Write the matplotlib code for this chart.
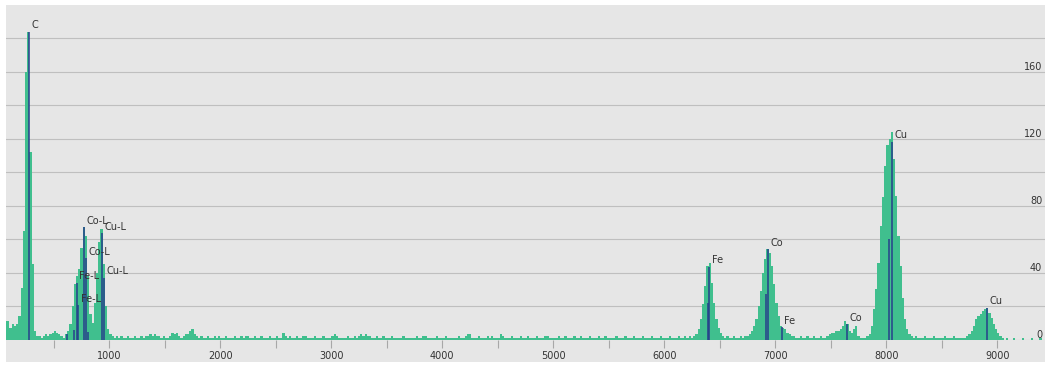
import numpy as np
import matplotlib.pyplot as plt
from matplotlib.ticker import MultipleLocator, FixedLocator

plt.rcParams.update({"font.family": "DejaVu Sans", "font.size": 7})

GREEN = "#40bf8e"; NAVY = "#26408b"; PANEL = "#e6e6e6"; GRID = "#bfbfbf"; TXT = "#333333"

# EDS spectrum, 20 eV channels starting at 60 eV
CH = 20
E_START = 60

# 60 - 1080 eV : C K and the Fe/Co/Cu L lines
counts_low = [11, 11, 7, 9, 8, 9, 14, 31, 65, 160, 184, 112, 45, 5, 2, 2, 1, 2, 3, 2,
              3, 4, 5, 4, 3, 2, 1, 3, 5, 9, 20, 33, 38, 42, 55, 67, 62, 38, 15, 10,
              22, 40, 58, 66, 45, 20, 6, 3, 2, 1, 2, 1]

# 1100 - 6180 eV : background
counts_bkg = [2, 1, 1, 2, 1, 1, 2, 1, 1, 2, 1, 2, 2, 3, 2, 3, 2, 2, 1, 2, 1, 1, 2, 4, 3,
              4, 2, 1, 2, 3, 3, 5, 6, 3, 2, 1, 2, 1, 1, 2, 1, 1, 2, 1, 2, 1, 1, 2, 1, 1,
              1, 2, 1, 1, 2, 1, 2, 2, 1, 1, 2, 1, 1, 2, 1, 1, 1, 2, 1, 1, 2, 1, 1, 4, 2,
              1, 2, 1, 1, 2, 1, 1, 2, 2, 1, 1, 1, 2, 1, 1, 1, 2, 1, 1, 1, 2, 3, 2, 1, 1,
              1, 1, 2, 1, 1, 2, 1, 2, 3, 2, 3, 2, 2, 1, 1, 2, 1, 1, 2, 1, 1, 1, 2, 1, 1,
              1, 1, 2, 1, 1, 1, 1, 1, 2, 1, 1, 2, 2, 1, 1, 1, 1, 2, 1, 1, 1, 2, 1, 1, 1,
              1, 1, 2, 1, 1, 2, 3, 3, 1, 1, 1, 2, 1, 1, 1, 2, 1, 2, 1, 1, 1, 3, 2, 1, 1,
              1, 2, 1, 1, 1, 2, 1, 1, 2, 1, 1, 1, 2, 1, 1, 1, 2, 2, 1, 1, 1, 1, 2, 1, 1,
              2, 1, 1, 1, 2, 1, 1, 2, 1, 1, 1, 2, 1, 1, 1, 2, 1, 1, 2, 1, 1, 1, 1, 2, 1,
              1, 1, 2, 1, 1, 1, 2, 1, 1, 1, 2, 1, 1, 1, 2, 1, 1, 1, 2, 1, 1, 1, 2, 1, 1,
              1, 2, 1, 1, 2]

# 6200 - 7180 eV : Fe K-alpha, Co K-alpha, Fe K-beta
counts_fe_co = [1, 2, 1, 2, 3, 6, 12, 21, 32, 44, 46, 34, 22, 12, 7, 4, 2, 1, 2, 1,
                1, 2, 1, 1, 2, 1, 2, 2, 3, 5, 8, 12, 20, 29, 40, 48, 54, 52, 44, 33,
                22, 14, 8, 7, 6, 4, 3, 2, 2, 1]

# 7200 - 9420 eV : Co K-beta, Cu K-alpha, Cu K-beta
counts_cu = [1, 2, 1, 1, 2, 1, 1, 2, 1, 1, 2, 1, 1,
             2, 3, 4, 4, 5, 5, 6, 8, 11, 9, 5, 4, 6, 8, 2, 1, 1, 1, 2,
             3, 8, 18, 30, 46, 68, 85, 104, 116, 120, 124, 108, 86, 62, 44, 25, 12, 6, 3, 2,
             1, 2, 1, 1, 1, 2, 1, 1, 1, 2, 1, 1, 1, 1, 2, 1, 1, 1, 2, 1, 1, 1, 1,
             1, 2, 3, 5, 8, 12, 14, 15, 17, 18, 19, 16, 13, 9, 6, 4, 2, 1,
             0, 1, 0, 0, 1, 0, 0, 0, 1, 0, 0, 0, 1, 0, 0, 0, 1, 0, 0]

# element line markers: energy (eV), marker height (counts), label
line_e = [277, 615, 678, 705, 718, 776, 791, 811, 930, 950,
          6391, 6404, 6915, 6930, 7058, 7649, 8028, 8048, 8905]
line_h = [184, 3, 5.5, 34, 20.5, 67, 48.5, 4.5, 63.5, 37,
          22, 43.5, 27.5, 54, 7.3, 9, 60, 118, 19]
line_lbl = ["C", "", "", "Fe-L", "Fe-L", "Co-L", "Co-L", "", "Cu-L", "Cu-L",
            "", "Fe", "", "Co", "Fe", "Co", "", "Cu", "Cu"]

y_ticks = [0, 40, 80, 120, 160]
y_grid = [20, 60, 100, 140, 180]

counts = np.concatenate([counts_low, counts_bkg, counts_fe_co, counts_cu]).astype(float)
edges = E_START + CH * np.arange(len(counts) + 1)

W, H = 1048, 365
fig = plt.figure(figsize=(W / 100, H / 100), dpi=100, facecolor="white")

# grey panel behind plot and x labels
bg = fig.add_axes([6 / W, 1 - 362 / H, (1045 - 6) / W, (362 - 5) / H], zorder=-1)
bg.set_facecolor(PANEL)
bg.set_xticks([]); bg.set_yticks([])
for s in bg.spines.values():
    s.set_visible(False)

ax = fig.add_axes([6 / W, 1 - 339.5 / H, (1045 - 6) / W, (339.5 - 5) / H])
ax.set_facecolor(PANEL)

ax.stairs(counts, edges, fill=True, color=GREEN, lw=0, zorder=2)
ax.vlines(line_e, 0, line_h, color=NAVY, lw=1.1, zorder=3)
for e, h, t in zip(line_e, line_h, line_lbl):
    if t:
        ax.annotate(t, (e, h), xytext=(1.8, 1.2), textcoords="offset points",
                    ha="left", va="bottom", color=TXT, fontsize=7, zorder=4)

ax.set_xlim(69, 9430)
ax.set_ylim(0, 200)

ax.xaxis.set_major_locator(MultipleLocator(1000))
ax.xaxis.set_minor_locator(MultipleLocator(500))
ax.xaxis.set_major_formatter(lambda v, p: f"{v:.0f}")
ax.tick_params(axis="x", which="both", direction="out", length=6, width=0.8,
               color="#a8a8a8", labelcolor=TXT, labelsize=7, pad=2)

ax.yaxis.set_major_locator(FixedLocator(y_ticks))
ax.yaxis.set_minor_locator(FixedLocator(y_grid))
ax.yaxis.tick_right()
ax.tick_params(axis="y", which="both", length=0, pad=-2, labelcolor=TXT, labelsize=7)
for lbl in ax.get_yticklabels():
    lbl.set_horizontalalignment("right")
    lbl.set_verticalalignment("bottom")
ax.grid(axis="y", which="both", color=GRID, lw=0.8, zorder=1)
ax.set_axisbelow(True)
for s in ax.spines.values():
    s.set_visible(False)

fig.savefig("out.png", dpi=100, facecolor="white")
